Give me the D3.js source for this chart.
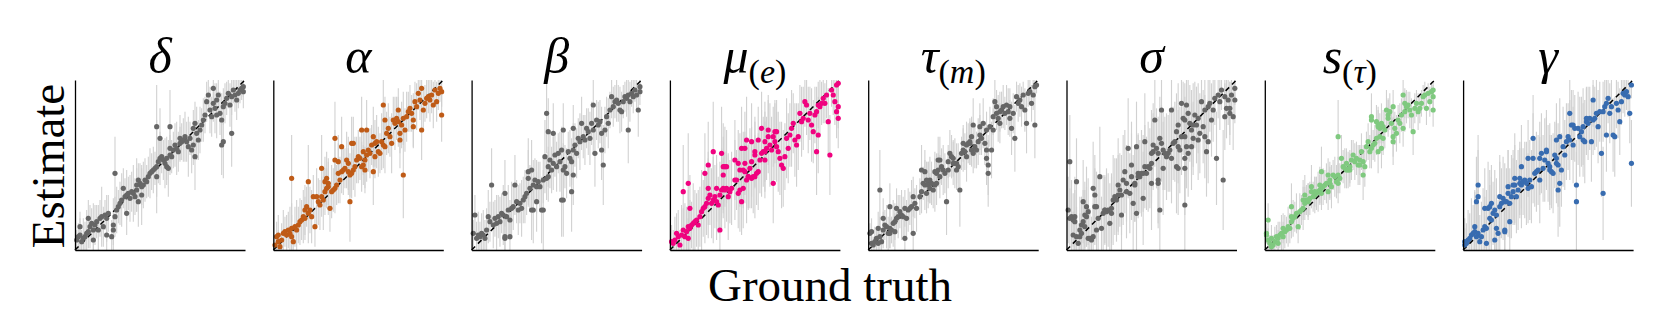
<!DOCTYPE html>
<html><head><meta charset="utf-8">
<script src="https://cdn.jsdelivr.net/npm/d3@7"></script>
<style>body{margin:0;background:#fff} svg{display:block}</style>
</head><body>
<svg id="chart" width="1661" height="332"></svg>
<script>
// Panel titles (base symbol + optional subscript)
const titleBase = ["δ","α","β","μ","τ","σ","s","γ"];
const titleSub  = [null,null,null,"e","m",null,"τ",null];
const panelColors = ["#666666","#bf5b17","#666666","#f0027f","#666666","#666666","#7fc97f","#386cb0"];
const xLabel = "Ground truth";
const yLabel = "Estimate";

// Each point: [ground truth, estimate, error half-width]  (arbitrary units, 0..102)
const deltaPts = [[1,6,6],[2,8,8],[3,9,10],[3,14,9],[4,5,7],[5,7,12],[6,8,9],[7,10,14],[8,11,10],[9,14,13],[10,16,9],[11,12,16],[8,19,11],[11,6,8],[12,15,12],[13,17,10],[14,12,15],[15,19,11],[16,20,18],[17,14,12],[18,21,9],[19,19,14],[20,22,11],[19,9,13],[22,8,10],[23,15,16],[24,20,12],[23,12,9],[24,46,22],[25,24,14],[26,26,10],[27,28,13],[28,30,16],[29,37,12],[30,32,11],[31,33,15],[31,22,13],[32,34,10],[33,31,14],[34,35,12],[35,34,17],[36,32,11],[37,36,13],[37,39,16],[38,42,10],[39,40,12],[38,29,15],[40,38,11],[41,39,14],[42,42,13],[40,33,18],[43,41,10],[44,44,12],[45,46,15],[46,47,11],[47,48,14],[48,49,10],[49,50,28],[49,44,12],[50,53,13],[51,55,16],[52,56,10],[53,54,12],[54,52,15],[55,50,11],[55,55,13],[56,49,17],[57,57,12],[58,56,10],[57,61,14],[59,60,11],[60,63,13],[61,61,16],[62,59,12],[63,64,10],[63,67,14],[64,65,11],[65,66,13],[66,68,15],[67,65,12],[68,62,18],[69,67,10],[70,60,14],[71,63,12],[72,56,20],[71,73,11],[72,76,13],[73,70,16],[74,66,12],[75,72,14],[76,75,10],[77,78,13],[78,81,11],[79,89,12],[80,93,10],[81,84,14],[82,80,12],[83,88,11],[84,85,15],[85,90,10],[86,93,12],[87,82,13],[88,78,16],[89,65,22],[88,63,18],[89,86,11],[90,88,12],[91,91,10],[92,94,9],[93,87,13],[94,70,20],[94,92,11],[95,96,8],[96,93,10],[97,90,12],[98,94,9],[99,96,8],[100,97,7],[101,95,10],[101,98,6],[85,81,14],[49,74,25],[57,74,22],[83,97,10],[51,67,18]];
const alphaPts = [[1,3,6],[2,8,9],[3,5,7],[3,9,12],[4,2,5],[5,6,10],[6,10,14],[7,11,9],[8,9,12],[9,12,11],[10,10,16],[11,8,13],[12,5,10],[11,13,15],[13,14,12],[14,12,18],[15,15,11],[16,17,14],[17,18,12],[18,20,16],[19,19,13],[19,24,15],[20,26,12],[21,22,18],[22,24,14],[23,20,16],[24,32,13],[25,14,12],[26,32,17],[27,29,14],[28,27,15],[29,32,12],[30,30,18],[31,35,14],[32,43,16],[33,40,13],[31,41,15],[32,37,12],[33,38,17],[34,25,14],[35,35,16],[36,36,13],[37,37,15],[38,39,12],[39,46,18],[40,42,14],[39,53,16],[41,47,13],[42,48,15],[43,49,12],[44,54,17],[45,47,14],[45,52,16],[46,45,13],[46,29,24],[47,46,15],[48,48,12],[49,50,18],[50,54,14],[51,56,16],[52,55,13],[53,50,15],[54,51,12],[55,54,17],[55,48,14],[56,57,16],[57,60,13],[58,58,15],[59,63,12],[60,68,18],[61,64,14],[62,65,16],[61,56,13],[60,47,20],[63,59,15],[64,58,12],[65,65,17],[66,63,14],[67,62,16],[68,70,13],[69,73,15],[70,68,12],[71,64,18],[72,78,14],[73,76,16],[74,79,13],[75,77,15],[76,70,12],[76,66,17],[77,75,14],[78,79,16],[79,72,13],[78,45,26],[80,80,15],[81,83,12],[82,85,14],[83,82,11],[84,78,16],[84,74,13],[85,89,12],[86,86,14],[87,94,10],[88,90,12],[89,97,9],[89,72,18],[90,84,13],[91,88,11],[92,91,12],[93,92,10],[94,90,13],[95,93,11],[96,87,14],[97,96,9],[98,89,12],[99,94,10],[100,97,8],[101,81,16],[101,95,9],[41,62,18],[37,67,22],[47,64,16],[53,72,20],[56,72,18],[11,43,26],[21,41,22],[29,49,20],[66,87,15],[67,78,14],[75,84,13],[48,64,16],[54,59,14],[37,54,18]];
const betaPts = [[1,10,8],[2,21,12],[3,7,10],[4,9,14],[5,8,9],[6,10,12],[7,9,15],[8,7,11],[9,12,13],[10,20,16],[11,17,12],[12,39,22],[13,15,14],[14,19,11],[15,16,17],[16,20,13],[17,17,15],[18,22,12],[19,21,18],[20,7,14],[20,34,20],[21,20,13],[22,24,15],[23,18,12],[24,25,16],[25,26,14],[26,39,18],[27,29,13],[28,24,15],[29,28,12],[30,25,17],[31,30,14],[32,32,16],[33,34,13],[34,47,20],[34,43,17],[35,37,14],[36,24,18],[37,39,15],[38,42,13],[39,38,16],[40,41,12],[41,38,15],[42,24,20],[43,42,14],[44,56,22],[45,43,13],[46,44,15],[46,50,12],[47,54,17],[48,48,14],[49,52,16],[50,57,13],[51,50,15],[52,58,12],[53,53,18],[54,60,14],[54,30,22],[55,48,16],[56,50,13],[57,46,15],[58,59,12],[59,55,17],[60,35,24],[60,53,14],[61,60,16],[61,45,18],[62,63,13],[63,58,15],[64,67,12],[65,65,17],[66,76,16],[67,68,13],[68,66,15],[69,73,12],[70,71,14],[71,67,16],[72,76,13],[73,72,15],[74,58,20],[73,87,16],[75,78,12],[76,75,14],[77,77,13],[78,70,16],[78,60,18],[79,51,24],[80,72,14],[81,80,12],[82,76,15],[83,84,11],[84,92,13],[85,86,12],[86,89,10],[87,90,13],[88,88,11],[89,84,14],[90,83,12],[91,89,10],[92,92,9],[93,91,11],[94,72,20],[94,93,9],[95,89,12],[96,94,8],[97,92,10],[98,96,7],[99,93,9],[100,84,16],[101,98,6],[101,95,8],[45,82,24],[49,70,18],[55,72,16],[61,73,14],[55,30,22],[43,24,24],[36,48,18],[37,24,20],[39,29,18],[46,71,20],[23,8,14],[20,8,12]];
const muPts = [[1,5,10],[2,4,8],[3,6,14],[4,10,12],[5,8,16],[6,3,9],[7,9,18],[8,12,13],[9,8,20],[10,11,15],[11,7,12],[11,14,22],[12,13,17],[13,15,14],[14,16,24],[15,17,19],[16,18,16],[17,15,21],[18,20,18],[19,23,25],[20,25,17],[21,26,22],[22,28,19],[23,31,24],[24,33,18],[25,28,21],[26,30,26],[27,32,19],[28,29,23],[29,27,17],[30,12,22],[30,33,20],[31,36,25],[32,37,18],[33,36,23],[34,37,20],[35,32,26],[36,35,19],[37,37,22],[39,42,24],[40,42,18],[41,34,21],[42,36,25],[43,29,20],[44,48,23],[45,47,19],[46,42,26],[47,44,20],[48,49,24],[49,43,18],[50,44,22],[51,44,25],[52,46,19],[53,47,23],[54,54,20],[55,58,26],[56,59,21],[57,65,24],[58,61,19],[59,68,22],[60,63,25],[61,60,20],[62,40,24],[62,68,18],[63,65,23],[64,62,21],[64,71,19],[65,59,24],[66,55,22],[67,51,26],[68,49,23],[69,56,20],[70,67,24],[71,61,21],[72,69,19],[73,73,23],[74,76,18],[75,66,22],[76,63,25],[77,68,20],[78,82,17],[79,77,21],[80,79,19],[81,89,15],[82,87,18],[83,78,20],[84,82,16],[85,75,22],[86,71,19],[87,81,17],[88,83,15],[89,69,23],[88,59,26],[89,87,14],[90,86,16],[91,88,13],[92,91,15],[93,88,12],[94,93,14],[95,77,20],[96,57,24],[97,96,10],[98,93,12],[99,89,14],[100,83,16],[101,79,18],[101,86,13],[101,100,8],[100,99,9],[39,54,24],[41,52,20],[42,48,22],[45,52,19],[46,66,26],[49,65,23],[51,59,21],[43,61,25],[45,61,22],[51,57,20],[57,59,24],[59,72,21],[63,71,19],[26,59,30],[31,58,28],[23,51,26],[21,46,24],[8,35,28],[11,40,30],[12,25,20],[23,37,22],[32,50,26],[33,50,24],[34,50,22],[28,37,20],[32,45,23],[44,37,24],[49,53,21],[47,44,19],[55,73,22],[53,66,20],[57,54,23]];
const tauPts = [[1,10,6],[2,4,8],[3,3,5],[4,5,9],[5,7,7],[6,4,10],[7,8,12],[8,5,8],[9,12,11],[10,15,9],[11,14,13],[12,10,10],[13,13,12],[14,12,8],[15,16,14],[16,17,11],[17,19,9],[18,20,13],[19,23,10],[20,21,15],[21,20,12],[22,7,14],[23,19,11],[24,24,13],[25,25,10],[26,26,16],[27,32,12],[28,28,9],[29,25,14],[31,32,11],[32,35,13],[33,40,10],[34,39,15],[35,34,12],[36,39,14],[37,37,9],[38,40,13],[39,36,11],[40,39,16],[41,46,12],[42,48,10],[42,54,14],[43,44,13],[44,50,11],[45,48,15],[46,46,12],[47,29,20],[48,53,10],[49,58,14],[50,56,13],[51,55,11],[52,52,15],[53,48,12],[54,50,14],[55,36,22],[56,58,10],[57,60,13],[58,59,11],[59,56,15],[60,64,12],[61,65,14],[62,60,10],[63,75,16],[63,58,12],[64,62,13],[65,60,11],[66,65,14],[67,69,12],[68,67,10],[69,76,15],[70,64,13],[71,60,11],[71,55,16],[72,51,18],[72,46,20],[73,74,12],[74,60,17],[75,80,11],[76,89,13],[77,82,10],[78,79,14],[79,76,12],[80,84,11],[81,86,13],[82,82,10],[83,87,12],[84,83,14],[85,79,11],[86,73,16],[87,82,12],[88,67,20],[89,92,9],[90,88,11],[91,90,10],[92,86,12],[93,93,8],[94,84,13],[95,76,18],[96,94,8],[97,95,7],[98,88,11],[99,93,9],[100,75,20],[100,98,6],[101,99,5],[7,36,24],[13,26,14],[17,25,12],[22,25,11],[32,48,15],[34,47,13],[36,41,12],[37,42,14],[35,42,11],[41,40,13],[40,47,12],[43,54,14],[48,48,11],[51,52,13],[53,52,12],[59,63,14],[57,64,11],[61,64,13],[62,68,12],[67,74,14],[71,72,11],[75,72,13],[77,86,10],[79,83,12],[85,86,11],[13,10,9],[6,13,10],[2,11,8],[9,19,12],[27,10,14],[16,11,11]];
const sigmaPts = [[1,24,20],[2,53,28],[2,19,18],[3,20,22],[4,18,16],[5,20,24],[4,9,14],[6,8,18],[6,41,26],[7,4,12],[8,12,20],[9,15,17],[10,29,25],[10,17,19],[11,14,22],[12,20,18],[12,26,24],[13,23,20],[13,7,15],[14,7,18],[15,6,14],[16,8,20],[16,37,28],[17,33,24],[18,26,21],[19,19,25],[20,44,30],[21,13,19],[22,22,23],[23,24,20],[24,23,26],[25,24,22],[26,16,24],[27,25,21],[28,30,27],[29,32,23],[30,30,25],[31,39,28],[32,36,22],[33,21,26],[33,33,24],[34,42,27],[35,47,25],[36,40,23],[36,35,28],[37,61,30],[38,34,24],[39,44,26],[40,28,29],[41,39,22],[42,22,30],[42,62,27],[43,46,24],[44,44,22],[45,46,26],[46,31,28],[46,46,23],[47,65,29],[47,50,25],[48,46,22],[49,50,27],[50,49,24],[51,58,26],[51,40,28],[52,59,23],[52,63,25],[53,78,28],[54,61,24],[55,58,22],[55,40,27],[56,24,30],[56,67,25],[57,64,23],[58,49,28],[58,60,24],[59,58,22],[60,56,26],[61,58,23],[62,60,25],[63,55,27],[64,64,22],[65,65,24],[66,50,28],[66,71,23],[67,75,25],[67,62,22],[68,60,26],[69,68,23],[69,88,20],[70,79,22],[71,68,24],[71,49,28],[71,27,30],[72,87,19],[72,62,25],[73,58,26],[73,82,21],[74,76,23],[75,72,24],[76,67,22],[76,75,25],[77,81,20],[78,75,23],[79,79,21],[80,70,24],[81,89,18],[82,74,22],[83,84,19],[83,68,25],[84,59,27],[85,86,18],[86,88,17],[87,78,22],[88,84,19],[89,91,16],[90,55,28],[91,93,14],[92,89,17],[93,96,12],[94,42,30],[95,80,20],[96,85,18],[97,90,15],[98,82,19],[99,93,13],[100,80,20],[101,97,10],[101,90,14],[95,92,13],[98,85,16],[85,65,25],[79,66,24],[75,62,26],[71,55,27],[67,49,28],[55,42,26],[51,52,24],[43,44,25],[41,40,23],[39,51,26],[31,33,24],[27,22,22],[23,24,21],[17,26,23],[11,21,20],[9,10,16],[8,8,14],[5,17,19],[18,12,18],[71,78,22],[57,84,20],[63,84,21]];
const sTauPts = [[1,10,6],[1,9,5],[2,6,7],[3,4,5],[4,7,8],[5,3,6],[6,5,9],[7,8,7],[8,7,10],[9,9,8],[10,10,11],[11,8,9],[12,11,10],[13,12,8],[14,14,12],[15,13,9],[16,26,14],[16,17,10],[17,19,11],[18,20,9],[19,22,12],[20,14,10],[21,23,11],[22,24,9],[23,25,13],[24,28,10],[24,33,12],[25,30,9],[26,29,11],[27,31,10],[28,38,13],[29,32,9],[30,33,11],[31,34,10],[32,35,12],[33,36,9],[34,47,15],[34,37,10],[35,38,11],[36,39,9],[37,40,12],[38,45,10],[39,42,11],[40,38,13],[41,45,9],[42,44,12],[43,41,10],[44,45,11],[45,43,9],[46,55,14],[47,50,10],[48,49,12],[49,52,9],[50,48,11],[51,50,10],[52,54,12],[53,57,9],[54,53,11],[55,55,10],[56,51,12],[57,54,9],[58,59,11],[59,45,15],[59,53,10],[60,50,12],[61,62,9],[62,65,11],[63,59,10],[64,61,12],[65,63,9],[66,64,11],[67,67,10],[68,59,13],[69,68,9],[70,61,12],[71,67,10],[64,80,14],[64,78,12],[67,77,10],[68,75,11],[69,73,9],[70,76,12],[71,74,10],[72,72,11],[73,84,12],[74,81,10],[75,83,11],[76,76,9],[77,65,14],[77,68,12],[78,73,10],[79,70,11],[80,78,9],[81,76,12],[82,81,10],[83,73,11],[84,88,9],[84,83,12],[85,86,10],[86,87,8],[87,84,11],[88,81,10],[89,71,14],[90,85,9],[91,88,8],[92,83,11],[93,85,9],[94,88,8],[95,92,7],[96,93,8],[97,85,10],[98,94,6],[99,89,9],[100,95,6],[101,92,7],[101,96,5],[101,84,10],[83,93,9],[77,86,10],[74,79,11],[68,74,10],[57,51,12],[51,48,10],[49,48,11],[44,40,12],[39,40,10],[33,39,11],[28,35,9],[23,30,12],[16,20,10],[11,13,9],[8,4,8],[4,2,6],[2,18,10],[44,68,22],[34,34,10],[38,35,11],[30,35,9],[26,30,10]];
const gammaPts = [[1,3,10],[1,5,14],[2,4,12],[3,6,18],[4,7,15],[5,9,22],[6,10,17],[7,11,24],[8,8,19],[9,10,26],[10,5,16],[11,8,21],[12,12,25],[13,14,18],[14,13,23],[15,25,28],[16,19,20],[17,18,26],[18,22,19],[19,24,24],[20,21,22],[20,13,18],[21,10,20],[22,26,27],[23,28,21],[24,31,25],[25,11,19],[25,29,23],[26,29,20],[27,34,26],[27,38,22],[28,17,24],[28,28,21],[29,32,25],[30,35,20],[31,43,27],[32,32,22],[33,36,24],[34,40,21],[35,39,26],[36,41,20],[37,42,23],[38,40,25],[39,37,21],[40,42,24],[41,38,22],[42,55,27],[43,46,20],[44,47,24],[45,48,21],[46,42,26],[46,55,22],[47,58,24],[48,49,20],[49,54,25],[50,59,21],[51,52,23],[52,50,26],[53,47,22],[54,46,24],[55,57,20],[56,55,23],[57,51,25],[57,36,28],[58,40,26],[59,48,22],[60,62,24],[61,57,21],[62,65,23],[63,68,20],[64,66,24],[65,75,21],[66,63,23],[67,73,20],[68,29,30],[68,39,27],[69,73,22],[70,68,24],[71,71,21],[72,74,23],[73,65,25],[74,77,20],[75,76,22],[76,79,19],[77,65,24],[78,78,21],[79,79,19],[80,82,20],[81,74,22],[82,83,18],[83,58,26],[84,34,28],[84,83,18],[85,86,17],[86,88,16],[87,91,15],[88,82,18],[89,86,16],[90,69,22],[91,68,24],[92,88,15],[93,84,17],[94,77,20],[95,89,14],[96,94,12],[97,93,13],[98,95,11],[99,92,12],[100,82,18],[101,52,26],[101,99,8],[86,69,22],[78,90,16],[74,79,19],[66,75,21],[58,68,23],[56,66,22],[50,60,24],[42,67,26],[39,55,23],[35,50,25],[34,43,22],[31,39,24],[30,39,21],[22,32,25],[17,28,23],[16,26,22],[9,39,30],[8,29,27],[9,32,28],[19,6,18],[25,12,20],[14,4,16],[7,14,22],[13,25,24],[64,82,20],[72,66,22],[56,52,24],[52,48,21]];

const panelData = [deltaPts, alphaPts, betaPts, muPts, tauPts, sigmaPts, sTauPts, gammaPts];
const axisDomain = [0, 102];

const svg = d3.select("#chart");
const left0 = 75, step = 198.3, pw = 170, panelTop = 80, ph = 170;
const mathFont = "'Liberation Serif', 'DejaVu Serif', serif";

panelData.forEach((pts, i) => {
  const g = svg.append("g").attr("transform", `translate(${left0 + i * step},${panelTop})`);
  const x = d3.scaleLinear().domain(axisDomain).range([0, pw]);
  const y = d3.scaleLinear().domain(axisDomain).range([ph, 0]).clamp(true);

  g.append("g").selectAll("line").data(pts).join("line")
    .attr("x1", d => x(d[0])).attr("x2", d => x(d[0]))
    .attr("y1", d => y(d[1] - d[2])).attr("y2", d => y(d[1] + d[2]))
    .attr("stroke", "#cfcfcf").attr("stroke-width", 1.1).attr("stroke-opacity", 0.95);

  g.append("line")
    .attr("x1", x(axisDomain[0])).attr("y1", y(axisDomain[0]))
    .attr("x2", x(axisDomain[1])).attr("y2", y(axisDomain[1]))
    .attr("stroke", "#000").attr("stroke-width", 1.5).attr("stroke-dasharray", "5,4");

  g.append("g").selectAll("circle").data(pts).join("circle")
    .attr("cx", d => x(d[0])).attr("cy", d => y(d[1]))
    .attr("r", 2.6).attr("fill", panelColors[i]);

  const ax = g.append("g").attr("transform", `translate(0,${ph})`)
    .call(d3.axisBottom(x).tickValues([]).tickSizeOuter(0));
  const ay = g.append("g").call(d3.axisLeft(y).tickValues([]).tickSizeOuter(0));
  [ax, ay].forEach(a => a.select(".domain").attr("stroke", "#000").attr("stroke-width", 1.3));

  const t = svg.append("text")
    .attr("x", left0 + i * step + pw / 2).attr("y", 73)
    .attr("text-anchor", "middle")
    .attr("font-family", mathFont).attr("font-size", 50);
  t.append("tspan").attr("font-style", "italic").text(titleBase[i]);
  if (titleSub[i]) {
    t.append("tspan").attr("font-size", 34).attr("dy", 10).text("(");
    t.append("tspan").attr("font-size", 34).attr("font-style", "italic").text(titleSub[i]);
    t.append("tspan").attr("font-size", 34).text(")");
  }
});

svg.append("text")
  .attr("x", 830).attr("y", 301)
  .attr("text-anchor", "middle")
  .attr("font-family", mathFont).attr("font-size", 47)
  .text(xLabel);

svg.append("text")
  .attr("transform", "translate(64,166) rotate(-90)")
  .attr("text-anchor", "middle")
  .attr("font-family", mathFont).attr("font-size", 47)
  .text(yLabel);
</script>
</body></html>
